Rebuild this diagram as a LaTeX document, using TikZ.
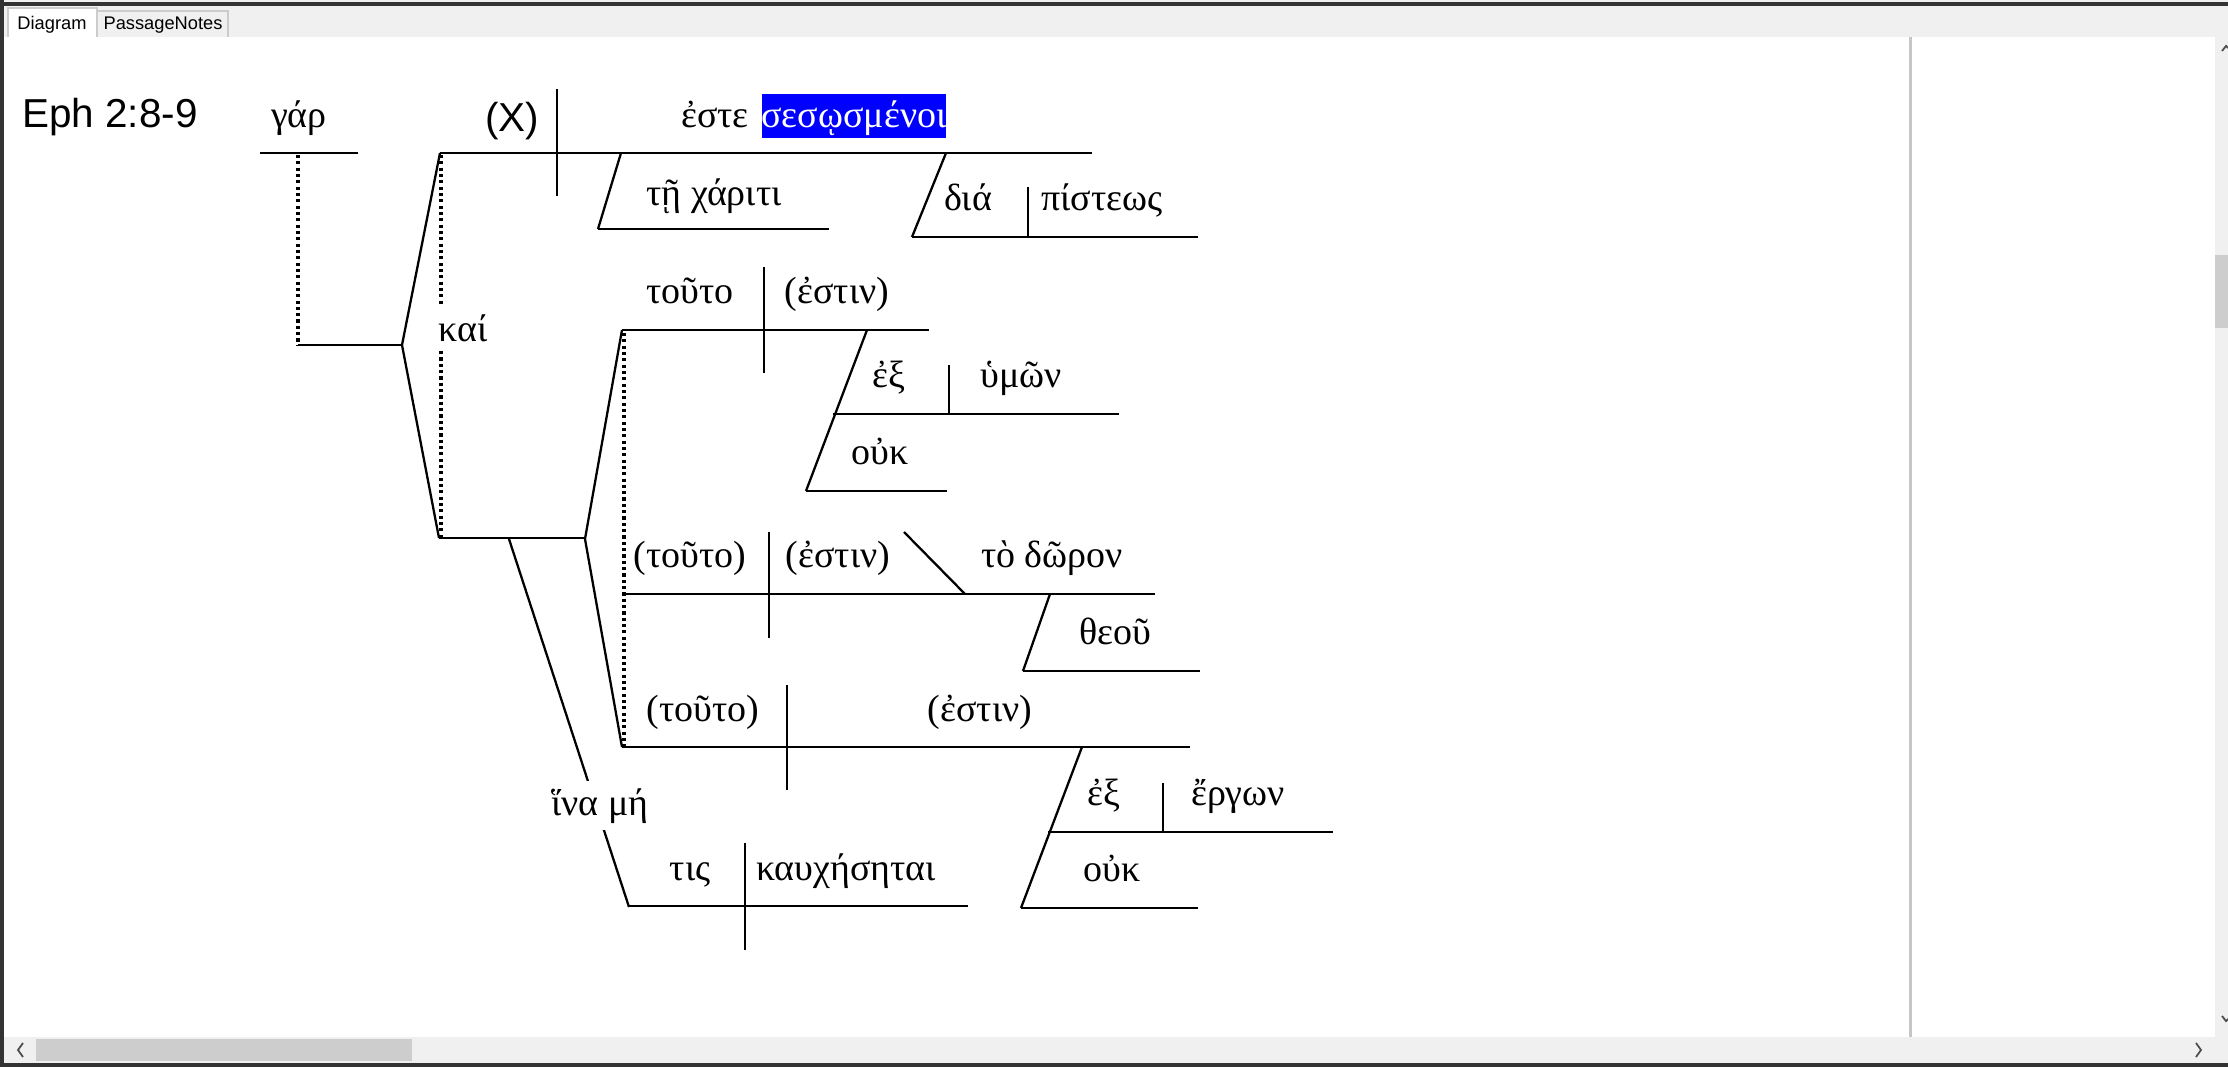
\documentclass[tikz,border=0pt]{standalone}
\usepackage{fontspec}
\setmainfont{Liberation Serif}
\newfontfamily\arialfont{Liberation Sans}
\definecolor{chrome}{HTML}{F0F0F0}
\definecolor{thumb}{HTML}{CDCDCD}
\definecolor{frame}{HTML}{333333}
\definecolor{hilite}{HTML}{0000FF}
\begin{document}
\begin{tikzpicture}[x=0.1mm, y=-0.1mm,
		bline/.style={line width=0.85pt},
		sline/.style={line width=0.65pt},
		dline/.style={line width=1.1pt, dash pattern=on 0.9pt off 0.9pt},
		wd/.style={anchor=base, inner sep=0pt, font=\fontsize{10.8}{12}\selectfont},
		sans/.style={anchor=base, inner sep=0pt, font=\arialfont\fontsize{11.5}{13}\selectfont},
		tab/.style={anchor=base, inner sep=0pt, font=\arialfont\fontsize{5.2}{6}\selectfont}]
		\useasboundingbox (0,0) rectangle (2228,1067);
		%fenster
		\fill[white] (0,0) rectangle (2228,1067);
		\fill[chrome] (0,0) rectangle (2228,37);
		\fill[frame] (0,2.5) rectangle (2228,6);
		\draw[draw=gray!40, fill=white] (8,37) -- (8,8) -- (97,8) -- (97,37);
		\draw[draw=gray!40, fill=chrome] (97,37) -- (97,11) -- (228,11) -- (228,37);
		\node[tab] (tabdia) at (52,29) {Diagram};
		\node[tab] (tabnotes) at (163,29) {PassageNotes};
		\fill[chrome] (4,1037) rectangle (2228,1063);
		\fill[chrome] (2215,37) rectangle (2228,1063);
		\fill[thumb] (36,1039) rectangle (412,1061);
		\fill[thumb] (2215,255) rectangle (2228,328);
		\draw[gray!60!black, line width=0.5pt] (23,1043) -- (18,1050) -- (23,1057);
		\draw[gray!60!black, line width=0.5pt] (2196,1043) -- (2201,1050) -- (2196,1057);
		\draw[gray!60!black, line width=0.5pt] (2222,51) -- (2226,46) -- (2228,48);
		\draw[gray!60!black, line width=0.5pt] (2222,1016) -- (2226,1021) -- (2228,1019);
		\fill[gray!45] (1909,37) rectangle (1912,1037);
		\fill[frame] (0,0) rectangle (4,1067);
		\fill[frame] (0,1063) rectangle (2228,1067);
		%titel
		\node[sans] (ref) at (110,127) {Eph 2:8-9};
		%gar
		\draw[bline] (260,153) -- (358,153);
		\node[wd] (gar) at (299,128) {γάρ};
		\draw[dline] (298,155) -- (298,345);
		\draw[bline] (298,345) -- (402,345);
		%kai
		\draw[sline] (440,153) -- (402,345) -- (439,538);
		\draw[dline] (441,155) -- (441,538);
		\node[wd, fill=white, inner sep=2pt] (kai) at (463,341) {καί};
		\draw[bline] (439,538) -- (585,538);
		%satz 1
		\draw[bline] (440,153) -- (1092,153);
		\draw[sline] (557,89) -- (557,196);
		\node[sans] (subj) at (512,131) {(X)};
		\node[wd] (este) at (715,128) {ἐστε};
		\node[wd, anchor=center, fill=hilite, text=white, minimum width=18.4mm, minimum height=4.4mm,
			text height=2.9mm, text depth=0.6mm] (sesosm) at (854,116) {σεσῳσμένοι};
		\draw[sline] (621,153) -- (598,229);
		\draw[bline] (598,229) -- (829,229);
		\node[wd] (chariti) at (714,205) {τῇ χάριτι};
		\draw[sline] (946,153) -- (912,237);
		\draw[bline] (912,237) -- (1198,237);
		\draw[sline] (1028,187) -- (1028,237);
		\node[wd] (dia) at (968,210) {διά};
		\node[wd] (pisteos) at (1102,210) {πίστεως};
		%
		\draw[sline] (622,330) -- (585,539) -- (622,747);
		\draw[dline] (624,333) -- (624,747);
		%satz 2
		\draw[bline] (622,330) -- (929,330);
		\draw[sline] (764,267) -- (764,373);
		\node[wd] (touto) at (690,303) {τοῦτο};
		\node[wd] (estin) at (837,303) {(ἐστιν)};
		\draw[sline] (867,330) -- (806,491);
		\draw[bline] (833,414) -- (1119,414);
		\draw[sline] (949,365) -- (949,414);
		\node[wd] (ex) at (889,387) {ἐξ};
		\node[wd] (hymon) at (1021,387) {ὑμῶν};
		\draw[bline] (806,491) -- (947,491);
		\node[wd] (ouk) at (880,464) {οὐκ};
		%satz 3
		\draw[bline] (624,594) -- (1155,594);
		\draw[sline] (769,532) -- (769,638);
		\node[wd] (toutob) at (690,567) {(τοῦτο)};
		\node[wd] (estinb) at (838,567) {(ἐστιν)};
		\draw[sline] (904,532) -- (965,594);
		\node[wd] (doron) at (1052,567) {τὸ δῶρον};
		\draw[sline] (1050,594) -- (1023,671);
		\draw[bline] (1023,671) -- (1200,671);
		\node[wd] (theou) at (1115,644) {θεοῦ};
		%satz 4
		\draw[bline] (622,747) -- (1190,747);
		\draw[sline] (787,685) -- (787,790);
		\node[wd] (toutoc) at (703,721) {(τοῦτο)};
		\node[wd] (estinc) at (980,721) {(ἐστιν)};
		\draw[sline] (1082,747) -- (1021,908);
		\draw[bline] (1048,832) -- (1333,832);
		\draw[sline] (1163,783) -- (1163,832);
		\node[wd] (exb) at (1104,805) {ἐξ};
		\node[wd] (ergon) at (1238,805) {ἔργων};
		\draw[bline] (1021,908) -- (1198,908);
		\node[wd] (oukb) at (1112,881) {οὐκ};
		%hina me
		\draw[sline] (509,539) -- (629,907);
		\node[wd, fill=white, inner sep=2pt] (hina) at (600,815) {ἵνα μή};
		\draw[bline] (629,906) -- (968,906);
		\draw[sline] (745,843) -- (745,950);
		\node[wd] (tis) at (690,880) {τις};
		\node[wd] (kauch) at (846,880) {καυχήσηται};
	\end{tikzpicture}
\end{document}
